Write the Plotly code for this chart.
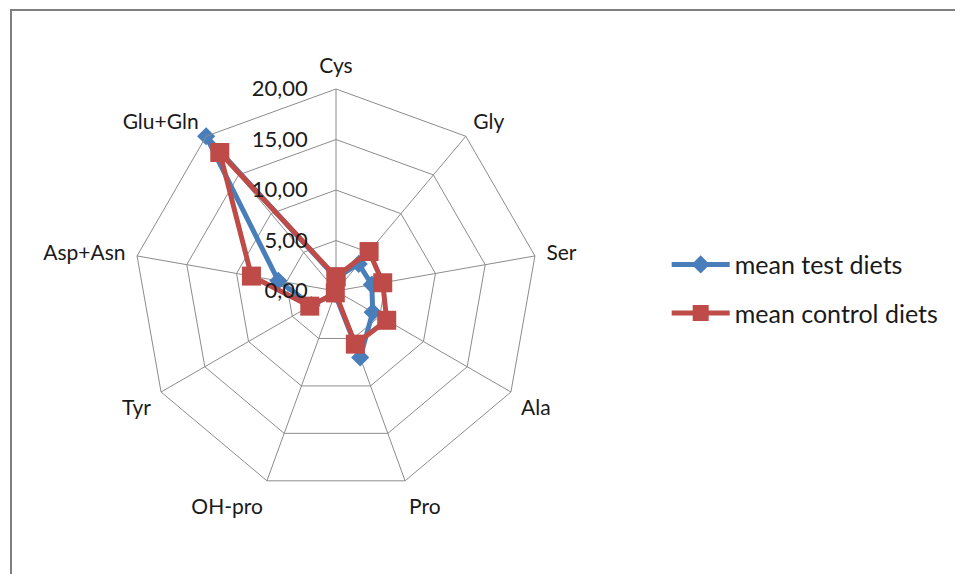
import plotly.graph_objects as go

categories = ["Cys", "Gly", "Ser", "Ala", "Pro", "OH-pro", "Tyr", "Asp+Asn", "Glu+Gln"]
mean_test = [1.3, 3.5, 3.6, 4.2, 7.0, 0.3, 2.8, 5.8, 20.0]
mean_control = [1.4, 5.1, 4.7, 5.8, 5.6, 0.2, 3.0, 8.5, 17.9]
radial_ticks = [0, 5, 10, 15, 20]

W, H = 963, 574
cx, cy, R = 328, 283, 202

fig = go.Figure()
fig.add_trace(go.Scatterpolar(
    r=mean_test + [mean_test[0]], theta=categories + [categories[0]],
    mode="lines+markers", name="mean test diets", legendgroup="a",
    line=dict(color="#4A7EBB", width=5),
    marker=dict(symbol="diamond", size=14, color="#4A7EBB"),
))
fig.add_trace(go.Scatterpolar(
    r=mean_control + [mean_control[0]], theta=categories + [categories[0]],
    mode="lines+markers", name="mean control diets", legendgroup="b",
    line=dict(color="#BE4B48", width=5),
    marker=dict(symbol="square", size=19, color="#BE4B48"),
))

fig.update_layout(
    width=W, height=H,
    margin=dict(l=0, r=0, t=0, b=0),
    paper_bgcolor="white",
    separators=", ",
    font=dict(family="Lato, Open Sans, sans-serif", size=21, color="#1a1a1a"),
    polar=dict(
        domain=dict(x=[(cx - R) / W, (cx + R) / W], y=[(H - cy - R) / H, (H - cy + R) / H]),
        gridshape="linear",
        bgcolor="white",
        angularaxis=dict(
            rotation=90, direction="clockwise",
            showline=True, linecolor="#8c8c8c", linewidth=1,
            gridcolor="#8c8c8c", gridwidth=1,
            ticks="outside", ticklen=7, tickcolor="rgba(0,0,0,0)",
            tickfont=dict(size=21),
        ),
        radialaxis=dict(
            range=[0, 20], tickvals=radial_ticks, tickformat=".2f",
            angle=90, tickangle=90, side="counterclockwise",
            showline=False, gridcolor="#8c8c8c", gridwidth=1,
            ticks="outside", ticklen=20, tickcolor="rgba(0,0,0,0)",
            tickfont=dict(size=22),
        ),
    ),
    showlegend=True,
    legend=dict(
        x=0.684, y=0.511, xanchor="left", yanchor="middle",
        traceorder="grouped", tracegroupgap=13, itemwidth=58,
        font=dict(size=25), bgcolor="rgba(0,0,0,0)",
    ),
    shapes=[dict(type="rect", xref="paper", yref="paper",
                 x0=3 / W, x1=961 / W, y0=-0.05, y1=1 - 2 / H,
                 line=dict(color="#7f7f7f", width=2))],
)

fig.write_html("out.html")
